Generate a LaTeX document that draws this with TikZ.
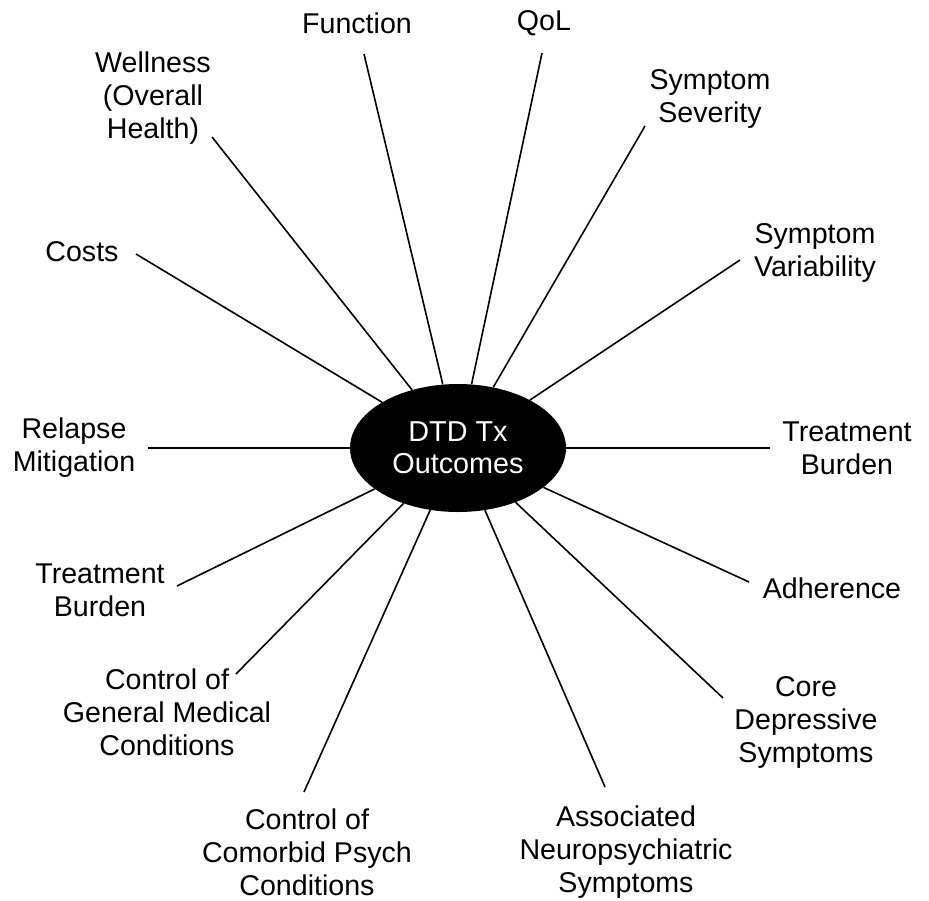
\documentclass[tikz,border=0pt]{standalone}
\usepackage{fontspec}
\setmainfont{Liberation Sans}
\usetikzlibrary{shapes.geometric}
\begin{document}
\begin{tikzpicture}[x=1pt,y=-1pt,
  lbl/.style={align=center,inner sep=0pt,font=\fontsize{28.6}{33}\selectfont},
  spoke/.style={line width=1.6pt,black},
  hub/.style={ellipse,fill=black,text=white,minimum width=216pt,minimum height=128pt,inner sep=0pt,align=center,font=\fontsize{28.8}{32}\selectfont}]
\useasboundingbox (0,0) rectangle (929,900);
\node[hub] (c) at (458,448) {DTD Tx\\Outcomes};
% labels
\node[lbl] (fun) at (357,23) {Function};
\node[lbl] (qol) at (544,23) {QoL};
\node[lbl] (wel) at (153,98) {Wellness\\(Overall\\Health)};
\node[lbl] (sev) at (710,99) {Symptom\\Severity};
\node[lbl] (cos) at (82,252) {Costs};
\node[lbl] (var) at (815,253) {Symptom\\Variability};
\node[lbl] (rel) at (74,448) {Relapse\\Mitigation};
\node[lbl] (tbr) at (847,448) {Treatment\\Burden};
\node[lbl] (tbl) at (100,590) {Treatment\\Burden};
\node[lbl] (adh) at (832,588) {Adherence};
\node[lbl] (gen) at (167,712) {Control of\\General Medical\\Conditions};
\node[lbl] (cor) at (806,722) {Core\\Depressive\\Symptoms};
\node[lbl] (com) at (307,852) {Control of\\Comorbid Psych\\Conditions};
\node[lbl] (ass) at (626,852) {Associated\\Neuropsychiatric\\Symptoms};
% free ends
\coordinate (efun) at (364,54);
\coordinate (eqol) at (542,53);
\coordinate (ewel) at (212,137);
\coordinate (esev) at (645,126);
\coordinate (ecos) at (136,254);
\coordinate (evar) at (740,260);
\coordinate (erel) at (148,448);
\coordinate (etbr) at (770,448);
\coordinate (etbl) at (177,586);
\coordinate (eadh) at (749,582);
\coordinate (egen) at (236,674);
\coordinate (ecor) at (723,698);
\coordinate (ecom) at (304,792);
\coordinate (eass) at (605,787);
\foreach \e in {efun,eqol,ewel,esev,ecos,evar,erel,etbr,etbl,eadh,egen,ecor,ecom,eass}
  \draw[spoke] (\e) -- (c);
\end{tikzpicture}
\end{document}
